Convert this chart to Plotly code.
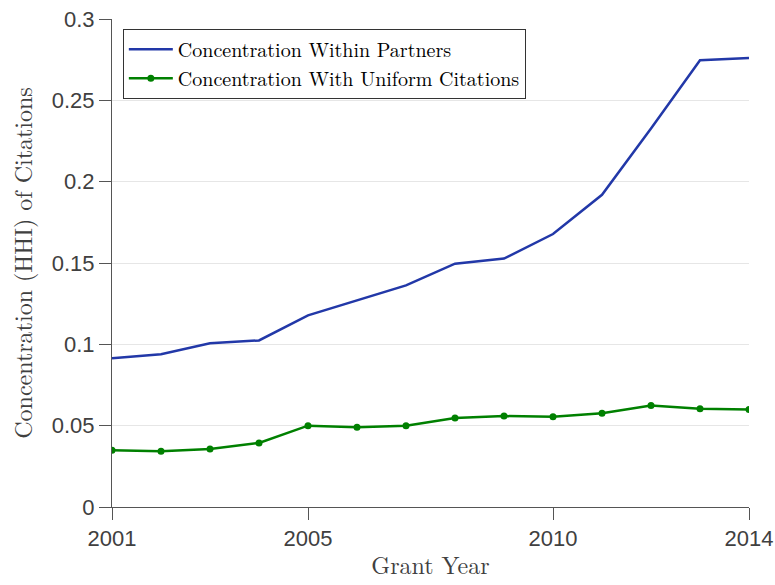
import plotly.graph_objects as go

years = list(range(2001, 2015))
within_partners = [0.0914, 0.0939, 0.1006, 0.1024, 0.1178, 0.1270, 0.1362,
                   0.1496, 0.1527, 0.1678, 0.1919, 0.2327, 0.2746, 0.2760]
uniform_citations = [0.0349, 0.0343, 0.0357, 0.0394, 0.0500, 0.0490, 0.0500,
                     0.0547, 0.0559, 0.0555, 0.0576, 0.0624, 0.0604, 0.0600]
x_ticks = [2001, 2005, 2010, 2014]
y_ticks = [0, 0.05, 0.1, 0.15, 0.2, 0.25, 0.3]
y_tick_text = ["0", "0.05", "0.1", "0.15", "0.2", "0.25", "0.3"]

serif = "Latin Modern Roman, CMU Serif, Liberation Serif, DejaVu Serif, serif"
sans = "Liberation Sans, Arial, sans-serif"

fig = go.Figure()
fig.add_trace(go.Scatter(
    x=years, y=within_partners, mode="lines",
    name="Concentration Within Partners",
    line=dict(color="#2238a8", width=2.5),
))
fig.add_trace(go.Scatter(
    x=years, y=uniform_citations, mode="lines+markers",
    name="Concentration With Uniform Citations",
    line=dict(color="#008000", width=2.5),
    marker=dict(color="#008000", size=7),
))

fig.update_layout(
    width=775, height=585,
    margin=dict(l=112, r=26, t=19, b=78),
    paper_bgcolor="white", plot_bgcolor="white",
    showlegend=True,
    legend=dict(
        x=0.017, y=0.98, xanchor="left", yanchor="top",
        bgcolor="white", bordercolor="#333333", borderwidth=1,
        font=dict(family=serif, size=20, color="black"),
        tracegroupgap=0, itemwidth=44,
    ),
    xaxis=dict(
        range=[2001, 2014], tickvals=x_ticks, automargin=False,
        ticks="outside", ticklen=12, tickcolor="#555555", tickwidth=1,
        showline=True, linecolor="#555555", linewidth=1,
        showgrid=False, zeroline=False,
        tickfont=dict(family=sans, size=22, color="#404040"),
        title=dict(text="Grant Year", font=dict(family=serif, size=24, color="#404040"), standoff=6),
    ),
    yaxis=dict(
        range=[0, 0.3], tickvals=y_ticks, ticktext=y_tick_text, automargin=False,
        ticks="outside", ticklen=12, tickcolor="#555555", tickwidth=1,
        showline=True, linecolor="#555555", linewidth=1,
        showgrid=True, gridcolor="#e6e6e6", gridwidth=1, zeroline=False,
        tickfont=dict(family=sans, size=22, color="#404040"),
        title=dict(text="Concentration (HHI) of Citations", font=dict(family=serif, size=24, color="#404040"), standoff=12),
    ),
)

fig.write_html("out.html")
